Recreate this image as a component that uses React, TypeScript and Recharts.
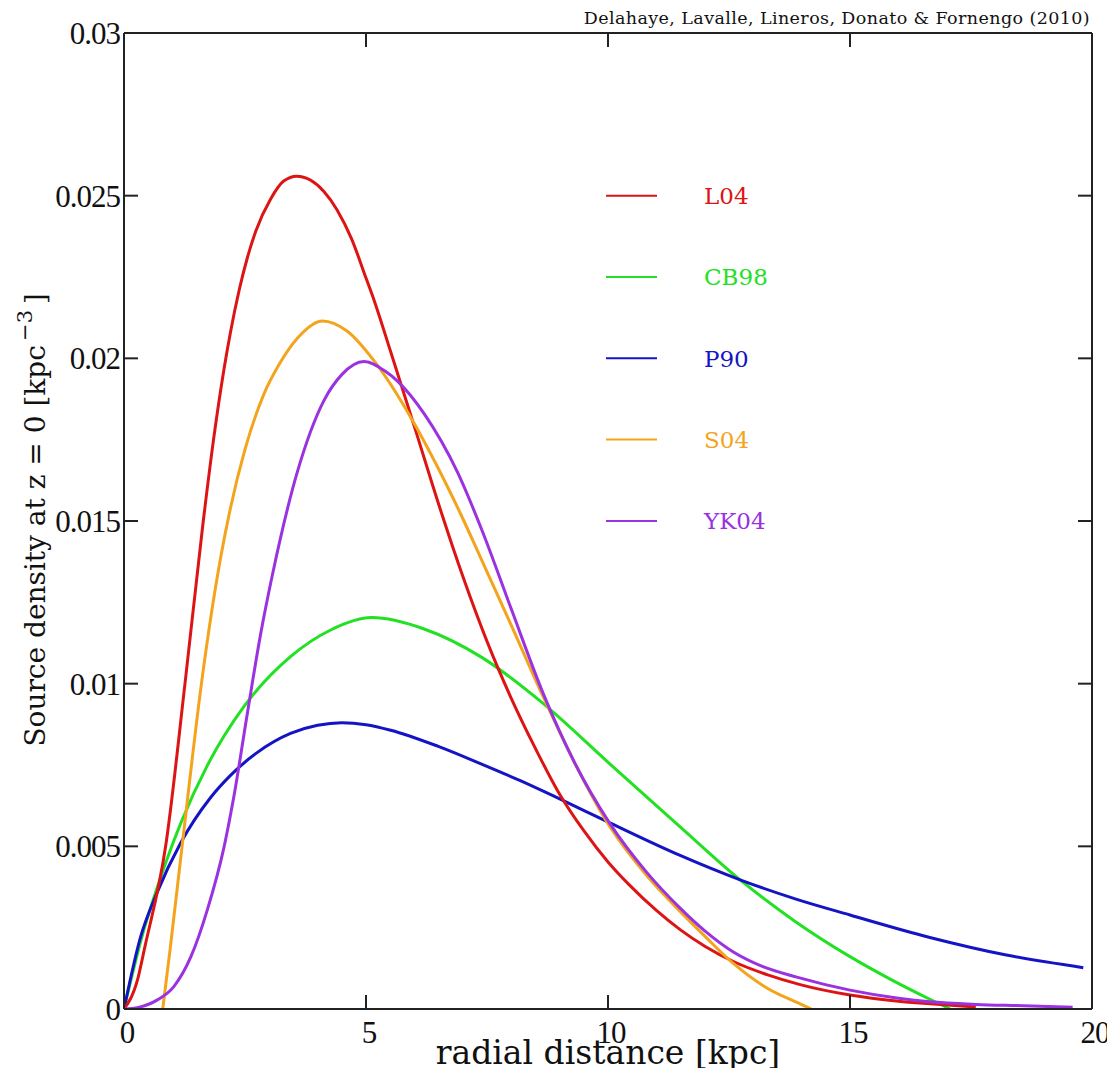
import React from "react";
import { LineChart, Line, XAxis, YAxis, Legend } from "recharts";

// ---- data ----
const X_TICKS = [0, 5, 10, 15, 20];
const X_TICK_LABELS = ["0", "5", "10", "15", "20"];
const Y_TICKS = [0, 0.005, 0.01, 0.015, 0.02, 0.025, 0.03];
const Y_TICK_LABELS = ["0", "0.005", "0.01", "0.015", "0.02", "0.025", "0.03"];

const SERIES_NAMES = ["L04", "CB98", "P90", "S04", "YK04"];
const SERIES_COLORS = ["#dd1414", "#22e022", "#1414c4", "#f4a41c", "#9a32e0"];

const R_L04 = [0, 0.28, 0.43, 0.86, 1.26, 1.63, 1.85, 2.07, 2.2, 2.38, 2.55, 2.72, 3.03, 3.3, 3.57, 3.85, 4.13, 4.4, 4.7, 5.0, 5.14, 5.51, 6.0, 6.57, 7.0, 7.5, 7.98, 8.5, 8.97, 9.5, 10.0, 10.45, 11.0, 11.49, 12.0, 12.59, 13.3, 13.97, 15.0, 16.0, 16.65, 17.6];
const V_L04 = [0, 0.0009, 0.0019, 0.005, 0.010, 0.0149, 0.0175, 0.0197, 0.0208, 0.0221, 0.0231, 0.0239, 0.0249, 0.02545, 0.0256, 0.02548, 0.02513, 0.02457, 0.02368, 0.02247, 0.0219, 0.0202, 0.0179, 0.0152, 0.0133, 0.0113, 0.00962, 0.00801, 0.00668, 0.00548, 0.00452, 0.0038, 0.00303, 0.00244, 0.00193, 0.00146, 0.00105, 0.00075, 0.00043, 0.00024, 0.00016, 0.00006];

const R_CB98 = [0, 0.41, 0.69, 1.17, 1.72, 2.48, 3.44, 4.27, 5.12, 6.2, 7.4, 8.57, 10.1, 11.49, 12.73, 13.86, 15.0, 15.83, 16.65, 17.07];
const V_CB98 = [0, 0.00243, 0.00375, 0.0057, 0.00748, 0.0093, 0.01083, 0.01165, 0.01203, 0.01168, 0.0108, 0.0095, 0.00745, 0.0056, 0.00397, 0.0027, 0.00161, 0.00092, 0.0003, 0];

const R_P90 = [0, 0.34, 0.69, 1.17, 1.79, 2.2, 2.75, 3.44, 4.0, 4.5, 5.0, 5.51, 6.48, 7.4, 8.2, 8.97, 10.04, 11.49, 12.73, 13.9, 15.0, 16.65, 18.23, 19.82];
const V_P90 = [0, 0.0022, 0.0036, 0.0051, 0.0065, 0.00718, 0.00788, 0.00847, 0.00872, 0.0088, 0.00874, 0.00857, 0.00808, 0.00752, 0.00701, 0.00648, 0.00572, 0.00472, 0.00397, 0.00337, 0.00289, 0.0022, 0.00166, 0.00127];

const R_S04 = [0.8, 0.95, 1.2, 1.6, 1.8, 2.0, 2.2, 2.5, 2.89, 3.2, 3.6, 4.1, 4.6, 5.23, 5.92, 6.5, 6.96, 7.36, 8.0, 8.63, 9.3, 10.04, 10.8, 11.49, 12.0, 12.59, 13.3, 13.97, 14.2];
const V_S04 = [0, 0.0018, 0.005, 0.0100, 0.0121, 0.0139, 0.0154, 0.0172, 0.0189, 0.0198, 0.02065, 0.02115, 0.02085, 0.0198, 0.0182, 0.0166, 0.0152, 0.0139, 0.0118, 0.0097, 0.0076, 0.0056, 0.0041, 0.003, 0.00224, 0.0014, 0.00063, 0.00016, 0];

const R_YK04 = [0, 0.3, 0.69, 1.03, 1.38, 1.72, 2.07, 2.27, 2.55, 2.82, 3.06, 3.58, 4.13, 4.5, 4.96, 5.4, 5.65, 6.2, 6.89, 7.4, 8.0, 8.66, 9.3, 10.04, 10.8, 11.49, 12.0, 12.59, 13.2, 13.9, 15.0, 16.0, 16.65, 17.6, 18.58, 19.6];
const V_YK04 = [0, 0.00005, 0.00028, 0.00069, 0.0016, 0.00304, 0.0050, 0.00653, 0.0091, 0.0115, 0.0133, 0.0165, 0.0187, 0.0195, 0.0199, 0.0196, 0.0193, 0.0183, 0.0165, 0.0147, 0.0123, 0.0097, 0.0076, 0.0057, 0.0042, 0.0031, 0.0024, 0.00175, 0.0013, 0.00098, 0.00058, 0.00033, 0.00022, 0.00014, 0.0001, 0.00005];

const toPoints = (rs: number[], vs: number[]) => rs.map((r, i) => ({ r, v: vs[i] }));

const SERIES_DATA = [
  toPoints(R_L04, V_L04),
  toPoints(R_CB98, V_CB98),
  toPoints(R_P90, V_P90),
  toPoints(R_S04, V_S04),
  toPoints(R_YK04, V_YK04),
];
const DRAW_ORDER = [1, 2, 0, 3, 4];

const FRAME = "#222";
const TICK_LEN = 14;
const SERIF = "'DejaVu Serif', serif";
const TICK_FONT = "'Liberation Serif', 'Times New Roman', serif";

const BottomTick = (props: any) => {
  const { x, y, index } = props;
  return (
    <g>
      <line x1={x} y1={y} x2={x} y2={y - TICK_LEN} stroke={FRAME} strokeWidth={2} />
      <text x={x + 3} y={y + 34} textAnchor="middle" fontFamily={TICK_FONT} fontSize={31} fill="#111" letterSpacing={-1}>
        {X_TICK_LABELS[index]}
      </text>
    </g>
  );
};
const TopTick = (props: any) => {
  const { x, y } = props;
  return <line x1={x} y1={y} x2={x} y2={y + TICK_LEN} stroke={FRAME} strokeWidth={2} />;
};
const LeftTick = (props: any) => {
  const { x, y, index } = props;
  return (
    <g>
      <line x1={x} y1={y} x2={x + TICK_LEN} y2={y} stroke={FRAME} strokeWidth={2} />
      <text x={x - 4} y={y} dy="0.35em" textAnchor="end" fontFamily={TICK_FONT} fontSize={31} fill="#111" letterSpacing={-1}>
        {Y_TICK_LABELS[index]}
      </text>
    </g>
  );
};
const RightTick = (props: any) => {
  const { x, y } = props;
  return <line x1={x} y1={y} x2={x - TICK_LEN} y2={y} stroke={FRAME} strokeWidth={2} />;
};

const LegendBox = () => (
  <svg width={260} height={420} style={{ display: "block" }}>
    {SERIES_NAMES.map((name, i) => {
      const cy = 27.7 + i * 81.3;
      return (
        <g key={name}>
          <line x1={8} y1={cy} x2={59} y2={cy} stroke={SERIES_COLORS[i]} strokeWidth={2} />
          <text x={106} y={cy} dy="0.36em" fontFamily={SERIF} fontSize={23} fill={SERIES_COLORS[i]}>
            {name}
          </text>
        </g>
      );
    })}
  </svg>
);

export default function App() {
  return (
    <div style={{ position: "relative", width: 1100, height: 1060 }}>
      <LineChart width={1100} height={1060} margin={{ top: 0, right: 0, bottom: 0, left: 0 }}>
        <XAxis
          xAxisId="bottom"
          type="number"
          dataKey="r"
          domain={[0, 20]}
          ticks={X_TICKS}
          allowDataOverflow
          height={59}
          tickSize={0}
          tickMargin={0}
          tickLine={false}
          axisLine={{ stroke: FRAME, strokeWidth: 2 }}
          tick={(p: any) => <BottomTick {...p} />}
          interval={0}
        />
        <XAxis
          xAxisId="top"
          orientation="top"
          type="number"
          dataKey="r"
          domain={[0, 20]}
          ticks={X_TICKS}
          allowDataOverflow
          height={25}
          tickSize={0}
          tickMargin={0}
          tickLine={false}
          axisLine={{ stroke: FRAME, strokeWidth: 2 }}
          tick={(p: any) => <TopTick {...p} />}
          interval={0}
        />
        <YAxis
          yAxisId="left"
          type="number"
          domain={[0, 0.03]}
          ticks={Y_TICKS}
          allowDataOverflow
          width={116}
          tickSize={0}
          tickMargin={0}
          tickLine={false}
          axisLine={{ stroke: FRAME, strokeWidth: 2 }}
          tick={(p: any) => <LeftTick {...p} />}
          interval={0}
        />
        <YAxis
          yAxisId="right"
          orientation="right"
          type="number"
          domain={[0, 0.03]}
          ticks={Y_TICKS}
          allowDataOverflow
          width={16}
          tickSize={0}
          tickMargin={0}
          tickLine={false}
          axisLine={{ stroke: FRAME, strokeWidth: 2 }}
          tick={(p: any) => <RightTick {...p} />}
          interval={0}
        />
        <Legend
          layout="vertical"
          align="center"
          verticalAlign="middle"
          wrapperStyle={{ position: "absolute", left: 590, top: 160, width: 260, height: 420 }}
          content={() => <LegendBox />}
        />
        {DRAW_ORDER.map((i) => (
          <Line
            key={SERIES_NAMES[i]}
            name={SERIES_NAMES[i]}
            xAxisId="bottom"
            yAxisId="left"
            data={SERIES_DATA[i]}
            dataKey="v"
            type="monotone"
            stroke={SERIES_COLORS[i]}
            strokeWidth={3}
            dot={false}
            activeDot={false}
            isAnimationActive={false}
          />
        ))}
      </LineChart>
      <div
        style={{
          position: "absolute",
          right: 18,
          top: 0,
          fontFamily: SERIF,
          fontSize: 17.5,
          letterSpacing: 0.4,
          color: "#111",
          whiteSpace: "nowrap",
          lineHeight: "20px",
        }}
      >
        Delahaye, Lavalle, Lineros, Donato &amp; Fornengo (2010)
      </div>
      <svg style={{ position: "absolute", left: 0, top: 0, overflow: "visible", pointerEvents: "none" }} width={1100} height={1060}>
        <text x={600} y={1056} textAnchor="middle" fontFamily={SERIF} fontSize={33} fill="#111">
          radial distance [kpc]
        </text>
        <text
          transform="translate(37 512) rotate(-90)"
          textAnchor="middle"
          fontFamily={SERIF}
          fontSize={28}
          fill="#111"
        >
          Source density at z = 0 [kpc
          <tspan dy={-13} fontSize={21}>{"\u2009\u22123"}</tspan>
          <tspan dy={13}>{"\u2009]"}</tspan>
        </text>
      </svg>
    </div>
  );
}
